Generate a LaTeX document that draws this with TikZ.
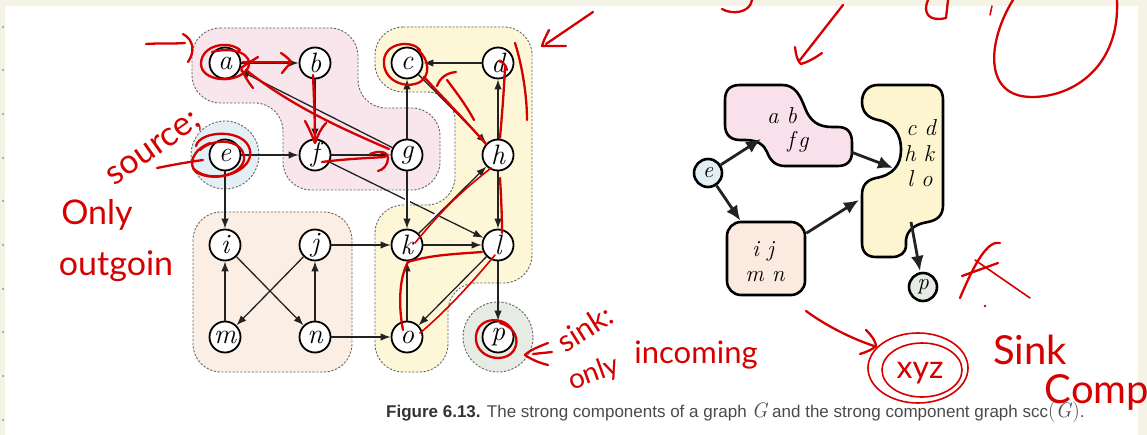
\documentclass[tikz,border=0pt]{standalone}
\usepackage{fontspec}
\usetikzlibrary{arrows.meta}
\newfontfamily\capfont{Liberation Sans}
\newfontfamily\handfont{Lato}
\definecolor{pageBG}{HTML}{F5F2E6}
\definecolor{pinkR}{HTML}{F9E5EC}
\definecolor{yelR}{HTML}{FDF7D8}
\definecolor{peachR}{HTML}{FBEEE5}
\definecolor{blueR}{HTML}{E4EFF5}
\definecolor{greenR}{HTML}{E6EBE4}
\definecolor{pinkB}{HTML}{F8E1EA}
\definecolor{yelB}{HTML}{FCF5D0}
\definecolor{peachB}{HTML}{FBEADF}
\definecolor{inkred}{HTML}{D50000}
\definecolor{capgray}{HTML}{4A4A4A}
\definecolor{edgecol}{HTML}{222222}
\tikzset{
  vtx/.style={circle, draw=black, line width=1.8pt, fill=white, minimum size=31pt, inner sep=0pt,
    font=\fontsize{28}{28}\selectfont\itshape},
  edge/.style={draw=edgecol, line width=1.3pt, -{Latex[length=10pt,width=7.5pt]}},
  region/.style={draw=black!60, dash pattern=on 2.2pt off 1.6pt, line width=0.9pt, rounded corners=28pt},
  blob/.style={draw=black, line width=2.6pt, line join=round},
  sccv/.style={circle, draw=black, line width=2.6pt, minimum size=28pt, inner sep=0pt,
    font=\fontsize{23}{23}\selectfont\itshape},
  blobtext/.style={font=\fontsize{23}{23}\selectfont\itshape, inner sep=0pt},
  sccarrow/.style={draw=edgecol, line width=2.8pt, -{Latex[length=15pt,width=13pt]}},
  ink/.style={draw=inkred, line width=2.3pt, line cap=round, line join=round},
  hand/.style={text=inkred, inner sep=0pt, font=\handfont\fontsize{34}{34}\selectfont},
  halo/.style={draw=white, line width=5pt},
}
\begin{document}
\begin{tikzpicture}[x=1pt,y=-1pt]
% page
\fill[pageBG] (0,0) rectangle (1147,435);
\fill[white] (5,6) rectangle (1138,435);
\useasboundingbox (0,0) rectangle (1147,435);
\foreach \yy in {27,70,114,158,201,245,289,332,376,420} \fill[black!40] (3,\yy) circle (1.1pt);

% ---------- regions (left graph) ----------
\path[region, fill=pinkR] (192,28) -- (358,28) -- (358,108) -- (440,108) -- (440,190) -- (283,190) -- (283,103) -- (192,103) -- cycle;
\path[region, fill=yelR] (375,27) -- (532,27) -- (532,283) -- (448,283) -- (448,372) -- (375,372) -- (375,205) -- (455,205) -- (455,92) -- (375,92) -- cycle;
\path[region, fill=peachR] (193,212) rectangle (352,372);
\path[region, fill=blueR] (225,155) circle (34pt);
\path[region, fill=greenR] (498,337) circle (35pt);

% ---------- vertices ----------
\node[vtx] (a) at (225,63) {a};
\node[vtx] (b) at (315,63) {b};
\node[vtx] (c) at (407,63) {c};
\node[vtx] (d) at (498,63) {d};
\node[vtx] (e) at (225,155) {e};
\node[vtx] (f) at (315,155) {f};
\node[vtx] (g) at (407,155) {g};
\node[vtx] (h) at (498,155) {h};
\node[vtx] (i) at (225,245) {i};
\node[vtx] (j) at (315,245) {j};
\node[vtx] (k) at (407,245) {k};
\node[vtx] (l) at (498,245) {l};
\node[vtx] (m) at (225,337) {m};
\node[vtx] (n) at (315,337) {n};
\node[vtx] (o) at (407,337) {o};
\node[vtx] (p) at (498,337) {p};

% ---------- edges ----------
\draw[edge] (f) -- (l);
\draw[halo] (407,193) -- (407,207);
\draw[halo] (431,221) -- (443,209);
\draw[edge] (a) -- (b);
\draw[edge] (b) -- (f);
\draw[edge] (g) -- (a);
\draw[edge] (e) -- (f);
\draw[edge] (f) -- (g);
\draw[edge] (g) -- (c);
\draw[edge] (g) -- (k);
\draw[edge] (d) -- (c);
\draw[edge] (c) -- (h);
\draw[edge] (h) -- (d);
\draw[edge] (k) -- (h);
\draw[edge] (h) -- (l);
\draw[edge] (e) -- (i);
\draw[edge] (j) -- (k);
\draw[edge] (k) -- (l);
\draw[edge] (l) -- (o);
\draw[edge] (o) -- (k);
\draw[edge] (n) -- (o);
\draw[edge] (l) -- (p);
\draw[edge] (m) -- (i);
\draw[edge] (n) -- (j);
\draw[edge] (i) -- (n);
\draw[edge] (j) -- (m);

% ---------- component graph ----------
\draw[blob, fill=pinkB] (740,85) -- (782,85) .. controls (795,85) and (800,95) .. (805,108)
  .. controls (810,121) and (818,127) .. (832,127) -- (838,127) .. controls (848,127) and (852,133) .. (852,143)
  -- (852,152) .. controls (852,161) and (847,166) .. (838,166) -- (785,166)
  .. controls (775,166) and (770,160) .. (767,152) .. controls (764,145) and (758,140) .. (745,140)
  -- (740,140) .. controls (730,140) and (725,134) .. (725,125) -- (725,100)
  .. controls (725,90) and (730,85) .. (740,85) -- cycle;
\draw[blob, fill=yelB] (878,85) -- (928,85) .. controls (938,85) and (943,90) .. (943,100)
  -- (943,205) .. controls (943,215) and (938,220) .. (928,222)
  .. controls (915,224) and (907,230) .. (906,240) -- (906,245)
  .. controls (906,253) and (900,257) .. (892,257) -- (876,257)
  .. controls (867,257) and (862,252) .. (862,243) -- (862,195)
  .. controls (862,185) and (867,180) .. (876,178)
  .. controls (893,175) and (901,165) .. (901,150)
  .. controls (901,133) and (893,123) .. (878,120)
  .. controls (868,118) and (862,112) .. (862,102)
  .. controls (862,92) and (868,85) .. (878,85) -- cycle;
\node[blob, fill=peachB, rounded corners=14pt, minimum width=78pt, minimum height=73pt, inner sep=0pt] (IJ) at (766,258.5) {};
\node[blobtext] (tab) at (782,116) {a b};
\node[blobtext] (tfg) at (798,142) {f\,g};
\node[blobtext] (tcd) at (921,128) {c d};
\node[blobtext] (thk) at (919,154) {h k};
\node[blobtext] (tlo) at (920,179) {l o};
\node[blobtext] (tij) at (763,251) {i j};
\node[blobtext] (tmn) at (765,277) {m n};
\node[sccv, fill=blueR] (E) at (708,173) {e};
\node[sccv, fill=greenR] (P) at (923,287) {p};
\coordinate (ABin) at (761,139);
\coordinate (ABout) at (851,152);
\coordinate (CDin1) at (893,168);
\coordinate (CDin2) at (859,200);
\coordinate (CDout) at (911,222);
\draw[sccarrow] (E) -- (ABin);
\draw[sccarrow] (E) -- (IJ);
\draw[sccarrow] (ABout) -- (CDin1);
\draw[sccarrow] (IJ) -- (CDin2);
\draw[sccarrow, shorten >=1pt] (CDout) -- (P);

% ---------- caption ----------
\node[anchor=base west, inner sep=0pt, text=capgray, font=\capfont\fontsize{17}{20}\selectfont] (cap) at (386,417)
  {{\color{black!80}\bfseries Figure 6.13.} The strong components of a graph {\rmfamily\itshape\fontsize{21}{21}\selectfont G} and the strong component graph scc{\rmfamily\fontsize{21}{21}\selectfont(\textit{G})}.};

% ---------- handwritten annotations ----------
% top
\draw[ink] (146,44) .. controls (160,43) and (172,44) .. (185,43);
\draw[ink] (183,34) .. controls (194,40) and (195,52) .. (188,62);
\draw[ink] (593,12) -- (546,44);
\draw[ink] (549,30) .. controls (545,38) and (543,42) .. (542,46) .. controls (550,46) and (558,46) .. (566,46);
\draw[ink] (752,0) .. controls (750,13) and (732,15) .. (722,9);
\draw[ink] (928,0) .. controls (922,14) and (930,22) .. (946,18) -- (948,0);
\draw[ink] (843,5) -- (800,60);
\draw[ink] (795,47) .. controls (796,56) and (798,62) .. (801,64) .. controls (808,62) and (815,58) .. (822,53);
\draw[ink] (1013,0) .. controls (988,40) and (982,97) .. (1032,97) .. controls (1075,97) and (1120,65) .. (1117,0);
\draw[ink, line width=1.5pt] (992,6) -- (990,15);
% circles and traces on G
\draw[ink] (240,50) .. controls (228,40) and (202,45) .. (201,63) .. controls (200,82) and (238,85) .. (248,68) .. controls (254,55) and (235,46) .. (212,52);
\draw[ink] (243,62) -- (290,62);
\draw[ink] (281,53) .. controls (287,57) and (290,60) .. (291,62) .. controls (288,66) and (285,69) .. (282,73);
\draw[ink] (313,75) .. controls (314,100) and (315,120) .. (315,142);
\draw[ink] (305,121) .. controls (310,130) and (313,138) .. (315,143) .. controls (318,135) and (321,128) .. (326,123);
\draw[ink] (389,149) .. controls (340,128) and (290,105) .. (246,70);
\draw[ink] (258,57) .. controls (250,62) and (245,65) .. (241,68) .. controls (244,75) and (248,82) .. (253,88);
\draw[ink] (322,162) .. controls (345,159) and (368,158) .. (385,157);
\draw[ink] (370,154) .. controls (380,150) and (388,152) .. (388,158) .. controls (388,165) and (383,170) .. (378,171);
\draw[ink] (196,146) .. controls (200,130) and (245,128) .. (250,150) .. controls (254,172) and (215,184) .. (196,172) .. controls (188,165) and (192,150) .. (210,143);
\draw[ink] (200,150) .. controls (215,136) and (246,140) .. (244,160) .. controls (240,178) and (205,182) .. (193,168);
\draw[ink] (157,168) .. controls (172,165) and (188,162) .. (203,160);
\draw[ink] (420,50) .. controls (412,40) and (386,42) .. (384,60) .. controls (382,80) and (405,90) .. (420,82) .. controls (430,76) and (430,60) .. (418,50);
\draw[ink] (424,77) .. controls (445,100) and (465,120) .. (486,144);
\draw[ink] (474,120) .. controls (466,105) and (456,92) .. (447,80);
\draw[ink] (437,86) .. controls (440,78) and (446,73) .. (456,72);
\draw[ink] (500,138) .. controls (502,115) and (504,90) .. (505,67);
\draw[ink] (499,61) .. controls (503,62) and (506,65) .. (507,70);
\draw[ink] (515,43) .. controls (522,65) and (527,95) .. (527,120);
\draw[ink, line width=1.6pt] (491,168) .. controls (470,185) and (450,200) .. (415,243);
\draw[ink] (500,178) .. controls (501,195) and (502,215) .. (502,233);
\draw[ink] (482,252) .. controls (455,254) and (430,255) .. (408,262) .. controls (398,280) and (399,310) .. (403,330);
\draw[ink, line width=1.6pt] (495,255) .. controls (470,285) and (445,312) .. (420,333);
\draw[ink] (512,330) .. controls (505,316) and (478,316) .. (476,336) .. controls (474,358) and (505,365) .. (514,350) .. controls (520,340) and (515,327) .. (500,323);
\draw[ink] (548,343) .. controls (538,347) and (530,350) .. (525,355) .. controls (532,360) and (540,363) .. (548,365);
\draw[ink] (533,354) -- (552,352);
% right side marks
\draw[ink] (1000,243) .. controls (988,240) and (975,262) .. (960,298);
\draw[ink] (962,276) -- (998,263);
\draw[ink, line width=1.6pt] (975,260) -- (1030,298);
\fill[inkred] (985,306) circle (1.3pt);
\draw[ink] (806,311) .. controls (825,325) and (850,338) .. (874,346);
\draw[ink] (866,330) .. controls (872,336) and (876,342) .. (876,346) .. controls (872,350) and (866,352) .. (860,354);
\draw[ink, line width=1.6pt] (918,368) ellipse [x radius=50pt, y radius=35pt];
\draw[ink, line width=1.6pt] (922,370) ellipse [x radius=40pt, y radius=27pt];
% texts
\node[hand, rotate=35] (src) at (155,150) {source;};
\node[hand] (only1) at (97,215) {Only};
\node[hand] (outg) at (116,266) {outgoin};
\node[hand, font=\handfont\fontsize{30}{30}\selectfont, rotate=32] (sink) at (585,328) {sink:};
\node[hand, font=\handfont\fontsize{28}{28}\selectfont, rotate=20] (only2) at (594,374) {only};
\node[hand, font=\handfont\fontsize{31}{31}\selectfont] (incoming) at (696,355) {incoming};
\node[hand, font=\handfont\fontsize{32}{32}\selectfont] (xyz) at (920,373) {xyz};
\node[hand, font=\handfont\fontsize{40}{40}\selectfont] (sinkc) at (1030,350) {Sink};
\node[hand, font=\handfont\fontsize{40}{40}\selectfont] (comp) at (1097,392) {Comp};
\end{tikzpicture}
\end{document}
